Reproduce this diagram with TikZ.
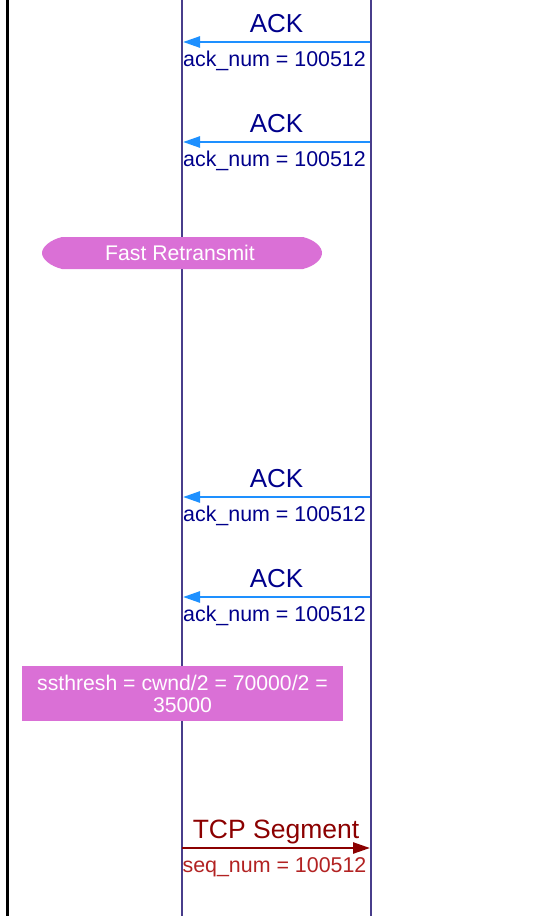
\documentclass[tikz,border=0pt]{standalone}
\usepackage{fontspec}
\setmainfont{Liberation Sans}
\usetikzlibrary{arrows.meta}
\definecolor{lifeline}{HTML}{483D8B}
\definecolor{ackblue}{HTML}{1E90FF}
\definecolor{acktext}{HTML}{00008B}
\definecolor{orchidbox}{HTML}{DA70D6}
\definecolor{segred}{HTML}{8B0000}
\definecolor{seqred}{HTML}{B22222}
\tikzset{
  lifelinestyle/.style={draw=lifeline, line width=2pt},
  framestyle/.style={draw=black, line width=3pt},
  ackarrow/.style={draw=ackblue, line width=2.5pt, -{Triangle[length=17pt,width=11pt]}},
  segarrow/.style={draw=segred, line width=2.5pt, -{Triangle[length=17pt,width=11pt]}},
  msgtitle/.style={anchor=base, inner sep=0pt, font=\fontsize{26}{28}\selectfont},
  segtitle/.style={anchor=base, inner sep=0pt, font=\fontsize{26.5}{28}\selectfont},
  msglabel/.style={anchor=base, inner sep=0pt, font=\fontsize{21.4}{24}\selectfont},
  notefill/.style={fill=orchidbox, draw=none},
  notetext/.style={text=white, inner sep=0pt, align=center, font=\fontsize{21.2}{22}\selectfont},
}
\begin{document}
\begin{tikzpicture}[x=1pt, y=-1pt]
\useasboundingbox (0,0) rectangle (543,916);
% frame line and lifelines
\coordinate (ftop) at (7,0);
\coordinate (fbot) at (7,916);
\draw[framestyle] (ftop) -- (fbot);
\coordinate (ltop) at (182,0);
\coordinate (lbot) at (182,916);
\coordinate (rtop) at (370.5,0);
\coordinate (rbot) at (370.5,916);
\draw[lifelinestyle] (ltop) -- (lbot);
\draw[lifelinestyle] (rtop) -- (rbot);

% ACK messages
\foreach \i/\y in {1/42,2/142,3/497,4/597}{
  \coordinate (R\i) at (370,\y);
  \coordinate (L\i) at (183,\y);
  \draw[ackarrow] (R\i) -- (L\i);
  \node[msgtitle, text=acktext] (ackt\i) at (276.5,\y-10) {ACK};
  \node[msglabel, text=acktext] (ackl\i) at (274.5,\y+24) {ack\_num = 100512};
}

% Fast Retransmit note
\path[notefill] (62,237) -- (303,237) .. controls (315,240) and (322,247) .. (322,253)
  .. controls (322,259) and (315,266) .. (303,269) -- (62,269)
  .. controls (50,266) and (42,259) .. (42,253)
  .. controls (42,247) and (50,240) .. (62,237) -- cycle;
\node[notetext] (fr) at (180,253) {Fast Retransmit};

% ssthresh note
\node[notefill, minimum width=321pt, minimum height=54.5pt, inner sep=0pt] (ss) at (182.5,693.5) {};
\node[notetext] (sst) at (ss.center) {ssthresh = cwnd/2 = 70000/2 =\\35000};

% TCP segment
\coordinate (SL) at (182,848);
\coordinate (SR) at (370,848);
\draw[segarrow] (SL) -- (SR);
\node[segtitle, text=segred] (segt) at (276,838) {TCP Segment};
\node[msglabel, text=seqred] (segl) at (274.5,872.5) {seq\_num = 100512};
\end{tikzpicture}
\end{document}
